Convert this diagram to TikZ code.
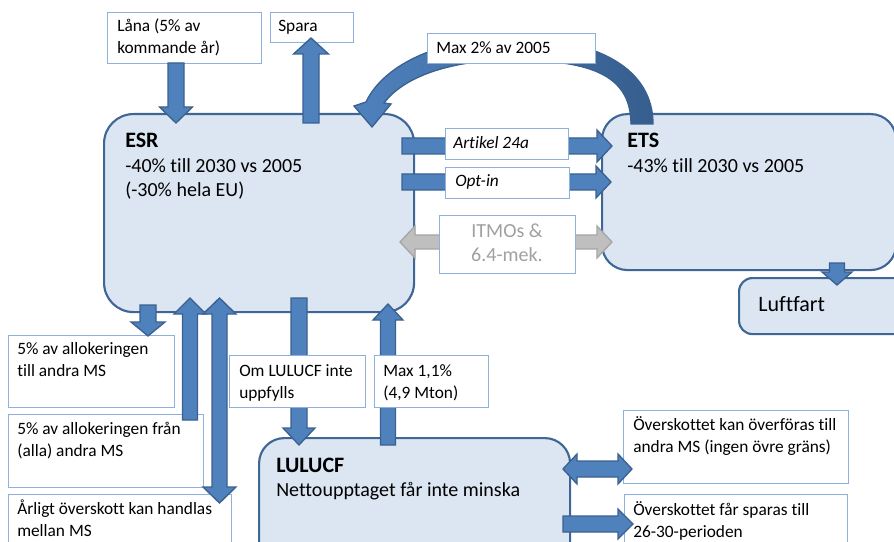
\documentclass[tikz,border=0pt]{standalone}
\usepackage{fontspec}
\setmainfont{Carlito}[Ligatures=CommonOff]
\usetikzlibrary{calc}
\definecolor{boxfill}{HTML}{DCE6F2}
\definecolor{boxline}{HTML}{3F6795}
\definecolor{arrfill}{HTML}{4F81BD}
\definecolor{arrline}{HTML}{3A6190}
\definecolor{arrdark}{HTML}{365E8E}
\definecolor{tline}{HTML}{8EB0DB}
\definecolor{gfill}{HTML}{BFBFBF}
\definecolor{gline}{HTML}{A6A6A6}
\definecolor{gtext}{HTML}{A0A0A0}

% [style]{start}{angle}{length}{head length}{shaft half width}{head half width}
\newcommand\blockarr[7][]{%
  \begin{scope}[shift={#2}, rotate=#3]
    \filldraw[barrow,#1] (0,-#6) -- ({#4-#5},-#6) -- ({#4-#5},-#7) -- (#4,0)
      -- ({#4-#5},#7) -- ({#4-#5},#6) -- (0,#6) -- cycle;
  \end{scope}}
\newcommand\dblarr[7][]{%
  \begin{scope}[shift={#2}, rotate=#3]
    \filldraw[barrow,#1] (0,0) -- (#5,-#7) -- (#5,-#6) -- ({#4-#5},-#6) -- ({#4-#5},-#7)
      -- (#4,0) -- ({#4-#5},#7) -- ({#4-#5},#6) -- (#5,#6) -- (#5,#7) -- cycle;
  \end{scope}}

\tikzset{
  mainbox/.style={draw=boxline, fill=boxfill, line width=1.6pt, anchor=north west, inner sep=0pt},
  tbox/.style={draw=tline, fill=white, line width=0.8pt, anchor=north west, inner sep=0pt},
  barrow/.style={fill=arrfill, draw=arrline, line width=1pt, line join=miter},
  garrow/.style={fill=gfill, draw=gline},
  small/.style={anchor=base west, inner sep=0pt, align=left, font=\fontsize{13}{16.5}\selectfont},
  body/.style={anchor=base west, inner sep=0pt, align=left, font=\fontsize{15}{17.25}\selectfont},
  title/.style={anchor=base west, inner sep=0pt, font=\fontsize{16.5}{19}\selectfont\bfseries},
}

\begin{document}
\begin{tikzpicture}[x=0.75pt,y=-0.75pt]
\useasboundingbox (0,0) rectangle (894,542);
\clip (0,0) rectangle (894,542);

% main boxes
\node[mainbox, rounded corners=22pt, minimum width=310*0.75pt, minimum height=198*0.75pt] (esr) at (103,113) {};
\node[mainbox, rounded corners=19pt, minimum width=294*0.75pt, minimum height=156*0.75pt] (ets) at (601,113) {};
\node[mainbox, rounded corners=10pt, minimum width=170*0.75pt, minimum height=56*0.75pt] (luft) at (738,277) {};
\node[mainbox, rounded corners=19pt, minimum width=311*0.75pt, minimum height=140*0.75pt] (lulucf) at (258,437) {};

% text boxes below arrows
\node[tbox, minimum width=166*0.75pt, minimum height=72*0.75pt] (allotill) at (8,335) {};
\node[tbox, minimum width=195*0.75pt, minimum height=73*0.75pt] (allofran) at (8,414) {};
\node[tbox, minimum width=223*0.75pt, minimum height=60*0.75pt] (arligt) at (8,494) {};
\node[tbox, minimum width=225*0.75pt, minimum height=73*0.75pt] (overf) at (623,410) {};
\node[tbox, minimum width=223*0.75pt, minimum height=60*0.75pt] (spar26) at (624,494) {};
\node[tbox, minimum width=154*0.75pt, minimum height=51*0.75pt] (lana) at (107,12) {};
\node[tbox, minimum width=83*0.75pt, minimum height=30*0.75pt] (spara) at (270,12) {};

% curved arrow ETS -> ESR
\filldraw[draw=arrline, line width=1pt, left color=arrfill, right color=arrdark]
  (653,124) .. controls (653,70) and (600,38) .. (510,38)
  .. controls (445,38) and (385,62) .. (366,102)
  -- (354,106) -- (372,127) -- (391,104) -- (384,103)
  .. controls (405,75) and (455,60) .. (510,60)
  .. controls (585,60) and (631,72) .. (631,124) -- cycle;

% straight block arrows
\blockarr{(176,63)}{-90}{60}{16}{8}{16.5}
\blockarr{(311,123)}{90}{85}{16}{8}{17.5}
\blockarr{(402,146)}{0}{210}{15}{8}{16}
\blockarr{(402,182)}{0}{209}{15}{8}{16}
\dblarr[garrow]{(400,242)}{0}{212}{15}{7}{16}
\blockarr{(148,305)}{-90}{31}{14}{8}{17}
\blockarr{(190,420)}{90}{122}{16}{7.5}{16}
\dblarr{(219.5,298)}{-90}{205}{16}{7.5}{16.5}
\blockarr{(299,298)}{-90}{147}{17}{8}{16}
\blockarr{(388,445)}{90}{141}{16}{7.5}{15}
\dblarr{(563,469)}{0}{69}{14}{8}{15}
\blockarr{(563,524)}{0}{70}{15}{8}{15}
\blockarr{(837,263)}{-90}{22}{13}{7.5}{15}

% text boxes over arrows
\node[tbox, minimum width=168*0.75pt, minimum height=30*0.75pt] (max2) at (427,33) {};
\node[tbox, minimum width=123*0.75pt, minimum height=31*0.75pt] (art) at (445,128) {};
\node[tbox, minimum width=124*0.75pt, minimum height=31*0.75pt] (optin) at (445,167) {};
\node[tbox, minimum width=136*0.75pt, minimum height=58*0.75pt] (itmo) at (439,215) {};
\node[tbox, minimum width=136*0.75pt, minimum height=52*0.75pt] (omlu) at (229,355) {};
\node[tbox, minimum width=114*0.75pt, minimum height=52*0.75pt] (max11) at (374,355) {};

% texts (base anchor of a two-line node = baseline of its last line)
\node[title] at (125,147) {ESR};
\node[body] at (125,196) {-40\% till 2030 vs 2005\\(-30\% hela EU)};
\node[title] at (627,147) {ETS};
\node[body] at (627,173) {-43\% till 2030 vs 2005};
\node[anchor=base west, inner sep=0pt, font=\fontsize{16.5}{19}\selectfont] at (758,311) {Luftfart};
\node[title] at (276,472) {LULUCF};
\node[body] at (276,496) {Nettoupptaget får inte minska};

\node[small] at (117,54) {Låna (5\% av\\kommande år)};
\node[small] at (278,32) {Spara};
\node[small] at (436,54) {Max 2\% av 2005};
\node[small, font=\fontsize{13}{16.5}\selectfont\itshape] at (453,149) {Artikel 24a};
\node[small, font=\fontsize{13}{16.5}\selectfont\itshape] at (455,187) {Opt-in};
\node[anchor=base, inner sep=0pt, align=center, text=gtext, font=\fontsize{15}{18}\selectfont] at (507,262) {ITMOs \&\\6.4-mek.};
\node[small] at (17,376) {5\% av allokeringen\\till andra MS};
\node[small] at (17,456) {5\% av allokeringen från\\(alla) andra MS};
\node[small] at (17,536) {Årligt överskott kan handlas\\mellan MS};
\node[small] at (239,398) {Om LULUCF inte\\uppfylls};
\node[small] at (383,398) {Max 1,1\%\\(4,9 Mton)};
\node[small] at (633,452) {Överskottet kan överföras till\\andra MS (ingen övre gräns)};
\node[small] at (633,537) {Överskottet får sparas till\\26-30-perioden};
\end{tikzpicture}
\end{document}
